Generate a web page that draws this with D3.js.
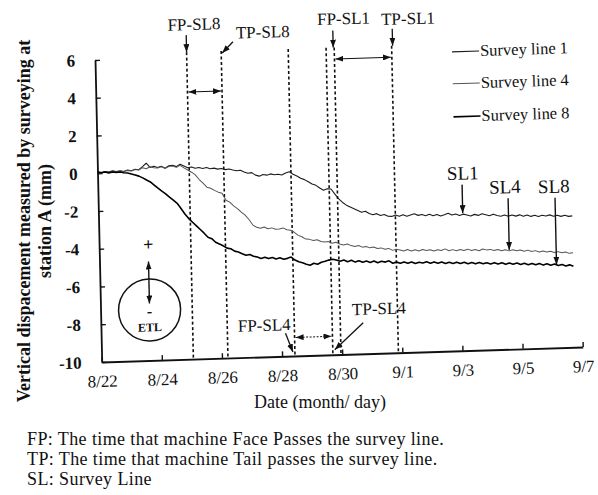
<!DOCTYPE html>
<html>
<head>
<meta charset="utf-8">
<script src="https://cdn.jsdelivr.net/npm/d3@7/dist/d3.min.js"></script>
<style>
  body { margin: 0; background: #fff; }
  text { font-family: "Liberation Serif", "Times New Roman", serif; fill: #111; }
</style>
</head>
<body>
<script>
// ---- data ----
// x ticks are days after 8/22
var tickDays = [0, 2, 4, 6, 8, 10, 12, 14, 16];
var tickLabels = ["8/22", "8/24", "8/26", "8/28", "8/30", "9/1", "9/3", "9/5", "9/7"];
var yTicks = [6, 4, 2, 0, -2, -4, -6, -8, -10];

// survey readings every 1/8 day from 8/22
var sampleStep = 0.125;
var sl1 = [
  0.06, 0.03, 0.08, 0.05, 0.1, 0.06, 0.09, 0.05,
  0.12, 0.08, 0.15, 0.12, 0.28, 0.45, 0.22, 0.28,
  0.2, 0.26, 0.15, 0.28, 0.3, 0.22, 0.34, 0.24,
  0.14, 0.18, 0.1, 0.14, 0.08, 0.12, 0.05, 0.08,
  0.02, 0.05, -0.02, 0.01, -0.05, -0.1, -0.08, -0.18,
  -0.25, -0.22, -0.36, -0.42, -0.34, -0.38, -0.32, -0.37,
  -0.35, -0.4, -0.3, -0.24, -0.38, -0.48, -0.6, -0.68,
  -0.8, -0.92, -1.0, -1.15, -1.27, -1.2, -1.22, -1.5,
  -1.75, -1.95, -2.1, -2.2, -2.3, -2.4, -2.5, -2.45,
  -2.58, -2.65, -2.6, -2.7, -2.66, -2.76, -2.77, -2.7,
  -2.78, -2.7, -2.79, -2.73, -2.67, -2.76, -2.72, -2.79,
  -2.72, -2.8, -2.74, -2.83, -2.77, -2.7, -2.8, -2.75,
  -2.83, -2.77, -2.82, -2.88, -2.8, -2.86, -2.78, -2.84,
  -2.9, -2.82, -2.9, -2.94, -2.88, -2.95, -2.9, -2.96,
  -2.9, -2.98, -2.92, -3.0, -2.95, -3.02, -2.96, -3.0,
  -2.95, -3.03, -2.98, -3.05, -3.0, -3.06, -3.04
];
var sl4 = [
  0.04, 0.0, 0.06, 0.02, 0.08, 0.03, 0.07, 0.05,
  0.1, 0.06, 0.13, 0.1, 0.22, 0.16, 0.26, 0.2,
  0.18, 0.24, 0.15, 0.24, 0.26, 0.18, 0.28, 0.14,
  0.02, -0.1, -0.25, -0.5, -0.7, -0.92, -0.98, -1.1,
  -1.2, -1.26, -1.64, -1.75, -1.95, -2.1, -2.3, -2.46,
  -2.7, -3.0, -3.12, -3.18, -3.12, -3.22, -3.18, -3.26,
  -3.25, -3.2, -3.3, -3.34, -3.45, -3.62, -3.7, -3.83,
  -3.85, -3.92, -3.88, -3.98, -4.02, -4.0, -4.09, -4.05,
  -4.15, -4.2, -4.16, -4.25, -4.3, -4.26, -4.35, -4.32,
  -4.4, -4.36, -4.45, -4.42, -4.5, -4.46, -4.57, -4.52,
  -4.56, -4.62, -4.55, -4.63, -4.58, -4.65, -4.57, -4.63,
  -4.6, -4.67, -4.61, -4.66, -4.58, -4.68, -4.63, -4.7,
  -4.64, -4.69, -4.63, -4.71, -4.66, -4.73, -4.65, -4.7,
  -4.68, -4.75, -4.7, -4.77, -4.72, -4.79, -4.74, -4.8,
  -4.76, -4.83, -4.78, -4.86, -4.82, -4.9, -4.85, -4.91,
  -4.88, -4.95, -4.91, -4.98, -4.94, -5.02, -4.99
];
var sl8 = [
  0.06, 0.02, 0.05, 0.0, 0.04, 0.01, 0.03, -0.02,
  -0.04, -0.1, -0.16, -0.22, -0.32, -0.44, -0.55, -0.72,
  -0.89, -1.05, -1.2, -1.38, -1.55, -1.72, -2.0, -2.3,
  -2.55, -2.75, -2.95, -3.15, -3.35, -3.57, -3.65, -3.85,
  -3.95, -4.05, -4.18, -4.22, -4.35, -4.4, -4.5, -4.59,
  -4.55, -4.65, -4.7, -4.78, -4.72, -4.8, -4.75, -4.83,
  -4.78, -4.86, -4.82, -4.76, -4.92, -5.02, -5.08, -5.16,
  -5.22, -5.12, -5.18, -5.08, -5.04, -4.98, -4.94, -4.99,
  -5.06, -5.0, -5.1, -5.03, -5.13, -5.07, -5.15, -5.09,
  -5.17, -5.1, -5.2, -5.13, -5.18, -5.12, -5.25, -5.2,
  -5.26, -5.2, -5.28, -5.22, -5.3, -5.24, -5.29, -5.23,
  -5.31, -5.25, -5.33, -5.27, -5.35, -5.29, -5.36, -5.3,
  -5.38, -5.32, -5.4, -5.34, -5.42, -5.36, -5.43, -5.38,
  -5.45, -5.39, -5.47, -5.41, -5.49, -5.43, -5.5, -5.45,
  -5.53, -5.47, -5.55, -5.49, -5.57, -5.51, -5.6, -5.54,
  -5.62, -5.56, -5.65, -5.6, -5.68, -5.63, -5.71
];
var seriesNames = ["Survey line 1", "Survey line 4", "Survey line 8"];

// times the machine face / tail passed each line (days after 8/22)
var passNames = ["FP-SL8", "TP-SL8", "FP-SL4", "TP-SL4", "FP-SL1", "TP-SL1"];
var passDays = [3.05, 4.20, 6.43, 7.69, 7.96, 9.87];

// where the SL labels point (days after 8/22)
var slLabels = ["SL1", "SL4", "SL8"];
var slPointDays = [12.11, 13.63, 15.19];

// ---- layout ----
var width = 481, height = 302;

var svg = d3.select("body").append("svg")
    .attr("width", 598)
    .attr("height", 495);

var defs = svg.append("defs");
defs.append("marker")
    .attr("id", "arrow")
    .attr("viewBox", "0 0 8 6")
    .attr("refX", 8).attr("refY", 3)
    .attr("markerWidth", 8).attr("markerHeight", 6)
    .attr("markerUnits", "userSpaceOnUse")
    .attr("orient", "auto-start-reverse")
    .append("path").attr("d", "M0,0L8,3L0,6Z").attr("fill", "#111");

// the scanned figure is slightly skewed, so the plot group is too
var g = svg.append("g")
    .attr("transform", "matrix(1,-0.0312,0.0222,1,95,60)");

var x = d3.scaleLinear().domain([0, 16]).range([0, width]);
var y = d3.scaleLinear().domain([-10, 6]).range([height, 0]);

// axes
var yAxis = g.append("g")
    .call(d3.axisLeft(y).tickValues(yTicks).tickFormat(function(d) { return String(d); })
        .tickSizeInner(-5).tickSizeOuter(0).tickPadding(20));
var xAxis = g.append("g")
    .attr("transform", "translate(0," + height + ")")
    .call(d3.axisBottom(x).tickValues(tickDays).tickFormat(function(d, i) { return tickLabels[i]; })
        .tickSizeInner(-5).tickSizeOuter(0).tickPadding(13));
[yAxis, xAxis].forEach(function(a) {
    a.attr("font-family", null).attr("font-size", null);
    a.select(".domain").attr("stroke", "#111").attr("stroke-width", 1.8);
    a.selectAll(".tick line").attr("stroke", "#111").attr("stroke-width", 1.4);
    a.selectAll("text").style("font-size", "17px").attr("fill", "#111");
});
yAxis.selectAll("text").style("font-weight", "bold");

// FP / TP dashed lines
g.selectAll(".pass")
    .data(passDays)
    .enter().append("line")
    .attr("class", "pass")
    .attr("x1", function(d) { return x(d); })
    .attr("x2", function(d) { return x(d); })
    .attr("y1", -5)
    .attr("y2", height)
    .attr("stroke", "#111")
    .attr("stroke-width", 1.6)
    .attr("stroke-dasharray", "3,2.5");

// survey lines
var styles = [
    {stroke: "#1c1c1c", width: 1.1},
    {stroke: "#555", width: 1.0},
    {stroke: "#000", width: 1.6}
];
var series = [sl1, sl4, sl8];
var line = d3.line()
    .x(function(d, i) { return x(i * sampleStep); })
    .y(function(d) { return y(d); });
g.selectAll(".series")
    .data(series)
    .enter().append("path")
    .attr("class", "series")
    .attr("fill", "none")
    .attr("stroke", function(d, i) { return styles[i].stroke; })
    .attr("stroke-width", function(d, i) { return styles[i].width; })
    .attr("stroke-linejoin", "round")
    .attr("d", line);

// legend
var legend = g.selectAll(".legend")
    .data(seriesNames)
    .enter().append("g")
    .attr("class", "legend")
    .attr("transform", function(d, i) { return "translate(357," + [3, 35, 68][i] + ")"; });
legend.append("line")
    .attr("x1", 0).attr("x2", 27)
    .attr("stroke", function(d, i) { return styles[i].stroke; })
    .attr("stroke-width", function(d, i) { return styles[i].width; });
legend.append("text")
    .attr("x", 28).attr("y", 5)
    .style("font-size", "16.5px")
    .text(function(d) { return d; });

// FP/TP annotations: label offset from the line, arrow start/end
var ann = [
    {i: 0, tx: 8, ty: -27, a: [0, -22, 0, -5]},
    {i: 1, tx: 42, ty: -17, a: [12, -14, 1, -3]},
    {i: 4, tx: 10, ty: -28, a: [-1, -22, -1, -5]},
    {i: 5, tx: 17, ty: -26, a: [1, -22, 1, -5]},
    {i: 2, tx: -30, ty: 276, a: [-9, 279, -2, 298]},
    {i: 3, tx: 47, ty: 263, a: [31, 271, 2, 297]}
];
ann.forEach(function(d) {
    var px = x(passDays[d.i]);
    g.append("text")
        .attr("x", px + d.tx).attr("y", d.ty)
        .attr("text-anchor", "middle")
        .style("font-size", "17px")
        .text(passNames[d.i]);
    g.append("line")
        .attr("x1", px + d.a[0]).attr("y1", d.a[1])
        .attr("x2", px + d.a[2]).attr("y2", d.a[3])
        .attr("stroke", "#111").attr("stroke-width", 1.3)
        .attr("marker-end", "url(#arrow)");
});

// double arrows between face and tail passing
var spans = [[0, 1, 35], [4, 5, 6.5], [2, 3, 283.5]];
spans.forEach(function(s) {
    g.append("line")
        .attr("x1", x(passDays[s[0]]) + 1).attr("x2", x(passDays[s[1]]) - 1)
        .attr("y1", s[2]).attr("y2", s[2])
        .attr("stroke", "#111").attr("stroke-width", 1)
        .attr("stroke-dasharray", s[0] === 2 ? "2,1.5" : null)
        .attr("marker-start", "url(#arrow)")
        .attr("marker-end", "url(#arrow)");
});

// SL labels pointing at the curves
var slText = [[1, 131], [-3, 146], [-1, 147]];
slLabels.forEach(function(name, i) {
    var d = slPointDays[i];
    var val = series[i][Math.round(d / sampleStep)];
    var px = x(d);
    g.append("text")
        .attr("x", px + slText[i][0]).attr("y", slText[i][1])
        .attr("text-anchor", "middle")
        .style("font-size", "19px")
        .text(name);
    g.append("line")
        .attr("x1", px).attr("y1", slText[i][1] + 5)
        .attr("x2", px).attr("y2", y(val) - 1)
        .attr("stroke", "#111").attr("stroke-width", 1.4)
        .attr("marker-end", "url(#arrow)");
});

// ETL symbol
var etl = g.append("g").attr("transform", "translate(49,0)");
etl.append("circle")
    .attr("cx", 0).attr("cy", 251.5).attr("r", 31)
    .attr("fill", "none").attr("stroke", "#111").attr("stroke-width", 1.5);
etl.append("text").attr("y", 192).attr("text-anchor", "middle")
    .style("font-size", "18px").style("font-weight", "bold").text("+");
etl.append("line")
    .attr("x1", 0).attr("x2", 0).attr("y1", 203).attr("y2", 245)
    .attr("stroke", "#111").attr("stroke-width", 1.4)
    .attr("marker-start", "url(#arrow)").attr("marker-end", "url(#arrow)");
etl.append("text").attr("y", 258).attr("text-anchor", "middle")
    .style("font-size", "16px").style("font-weight", "bold").text("-");
etl.append("text").attr("y", 273).attr("text-anchor", "middle")
    .style("font-size", "12px").style("font-weight", "bold").text("ETL");

// axis titles
svg.append("text")
    .attr("transform", "translate(30,221) rotate(-90)")
    .attr("text-anchor", "middle")
    .style("font-size", "18px").style("font-weight", "bold")
    .text("Vertical dispacement measured by surveying at");
svg.append("text")
    .attr("transform", "translate(51,221) rotate(-90)")
    .attr("text-anchor", "middle")
    .style("font-size", "18px").style("font-weight", "bold")
    .text("station A (mm)");
svg.append("text")
    .attr("x", 320).attr("y", 408)
    .attr("text-anchor", "middle")
    .style("font-size", "18px")
    .text("Date (month/ day)");

// footnotes
var notes = [
    "FP: The time that machine Face Passes the survey line.",
    "TP: The time that machine Tail passes the survey line.",
    "SL: Survey Line"
];
svg.selectAll(".note")
    .data(notes)
    .enter().append("text")
    .attr("class", "note")
    .attr("x", 27)
    .attr("y", function(d, i) { return [445, 465, 485][i]; })
    .style("font-size", "18px")
    .style("letter-spacing", "0.4px")
    .text(function(d) { return d; });
</script>
</body>
</html>
